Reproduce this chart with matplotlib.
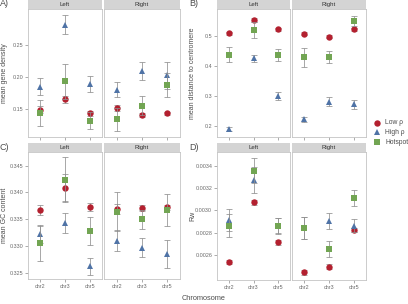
import matplotlib
matplotlib.use("Agg")
import matplotlib.pyplot as plt

chromosomes = ["chr2", "chr3", "chr5"]
sides = ["Left", "Right"]
groups = ["Low ρ", "High ρ", "Hotspot"]

# values: [side][chromosome]
gene_density_low = [[0.149, 0.165, 0.143], [0.152, 0.141, 0.143]]
gene_density_low_se = [[0.006, 0.005, 0.004], [0.005, 0.003, 0.003]]
gene_density_high = [[0.185, 0.282, 0.189], [0.180, 0.209, 0.203]]
gene_density_high_se = [[0.013, 0.015, 0.012], [0.012, 0.014, 0.021]]
gene_density_hot = [[0.144, 0.193, 0.132], [0.134, 0.155, 0.1875]]
gene_density_hot_se = [[0.020, 0.027, 0.013], [0.018, 0.015, 0.018]]

centromere_low = [[0.509, 0.553, 0.522], [0.508, 0.498, 0.522]]
centromere_low_se = [[0.005, 0.006, 0.005], [0.005, 0.005, 0.005]]
centromere_high = [[0.190, 0.426, 0.300], [0.222, 0.280, 0.273]]
centromere_high_se = [[0.008, 0.012, 0.012], [0.008, 0.015, 0.015]]
centromere_hot = [[0.437, 0.520, 0.437], [0.429, 0.429, 0.551]]
centromere_hot_se = [[0.025, 0.027, 0.021], [0.031, 0.020, 0.017]]

gc_low = [[0.3367, 0.3409, 0.3373], [0.3369, 0.3371, 0.3372]]
gc_low_se = [[0.0010, 0.0025, 0.0007], [0.0010, 0.0006, 0.0005]]
gc_high = [[0.3322, 0.3343, 0.3262], [0.3310, 0.3297, 0.3285]]
gc_high_se = [[0.0017, 0.0019, 0.0016], [0.0020, 0.0017, 0.0027]]
gc_hot = [[0.3305, 0.3424, 0.3328], [0.3364, 0.3350, 0.3367]]
gc_hot_se = [[0.0033, 0.0042, 0.0026], [0.0036, 0.0018, 0.0030]]

rw_low = [[0.002537, 0.003072, 0.002713], [0.002445, 0.002496, 0.002824]]
rw_low_se = [[0.00002, 0.00002, 0.00002], [0.00002, 0.00002, 0.00002]]
rw_high = [[0.002913, 0.003272, 0.002860], [0.002840, 0.002907, 0.002863]]
rw_high_se = [[0.00010, 0.00012, 0.00007], [0.00010, 0.00007, 0.00006]]
rw_hot = [[0.002863, 0.003355, 0.002863], [0.002842, 0.002651, 0.003113]]
rw_hot_se = [[0.00010, 0.00011, 0.00007], [0.00010, 0.00007, 0.00007]]

colors = ["#B3202F", "#4F73A6", "#72A553"]
markers = ["o", "^", "s"]

panels = [
    dict(label="A)", ylabel="mean gene density",
         data=[(gene_density_low, gene_density_low_se), (gene_density_high, gene_density_high_se),
               (gene_density_hot, gene_density_hot_se)],
         ylim=(0.10625, 0.30625), yticks=[0.15, 0.20, 0.25], fmt="{:.2f}",
         xl=(28, 102, 104, 180), yt=(0, 9, 137), xlabels=False, labx=5),
    dict(label="B)", ylabel="mean distance to centromere",
         data=[(centromere_low, centromere_low_se), (centromere_high, centromere_high_se),
               (centromere_hot, centromere_hot_se)],
         ylim=(0.1633, 0.59), yticks=[0.2, 0.3, 0.4, 0.5], fmt="{:.1f}",
         xl=(217, 290, 292, 366), yt=(0, 9, 137), xlabels=False, labx=193),
    dict(label="C)", ylabel="mean GC content",
         data=[(gc_low, gc_low_se), (gc_high, gc_high_se), (gc_hot, gc_hot_se)],
         ylim=(0.32382, 0.34756), yticks=[0.325, 0.330, 0.335, 0.340, 0.345], fmt="{:.3f}",
         xl=(28, 102, 104, 180), yt=(143, 152, 279), xlabels=True, labx=5),
    dict(label="D)", ylabel="Rw",
         data=[(rw_low, rw_low_se), (rw_high, rw_high_se), (rw_hot, rw_hot_se)],
         ylim=(0.002376, 0.003523), yticks=[0.0026, 0.0028, 0.0030, 0.0032, 0.0034], fmt="{:.4f}",
         xl=(217, 290, 292, 366), yt=(143, 152, 280), xlabels=True, labx=193),
]

W, H = 408, 304
fig = plt.figure(figsize=(W / 100, H / 100), dpi=100)
plt.rcParams["font.family"] = ["Liberation Sans", "DejaVu Sans"]

def frac(x0, y0, x1, y1):
    return [x0 / W, 1 - y1 / H, (x1 - x0) / W, (y1 - y0) / H]

txtc = "#4d4d4d"
edge = "#c4c4c4"
xpos = [1, 2, 3]

for p in panels:
    xa0, xa1, xb0, xb1 = p["xl"]
    st, top, bot = p["yt"]
    for si, (x0, x1) in enumerate([(xa0, xa1), (xb0, xb1)]):
        ax = fig.add_axes(frac(x0, top, x1, bot))
        for gi in range(3):
            vals, ses = p["data"][gi]
            ax.errorbar(xpos, vals[si], yerr=ses[si], fmt="none", ecolor="#8f8f8f",
                        elinewidth=0.55, capsize=2.2, capthick=0.55, zorder=2 + gi)
            ax.plot(xpos, vals[si], linestyle="none", marker=markers[gi], color=colors[gi],
                    markersize=4.6 if gi != 1 else 5.0, markeredgewidth=0, zorder=3 + gi)
        ax.set_xlim(0.5, 3.5)
        ax.set_ylim(*p["ylim"])
        ax.set_xticks(xpos)
        ax.set_yticks(p["yticks"])
        for s in ax.spines.values():
            s.set_color(edge)
            s.set_linewidth(0.6)
        ax.tick_params(length=2, width=0.5, color="#8a8a8a", labelsize=3.9, labelcolor="#6a6a6a", pad=1.5)
        if p["xlabels"]:
            ax.set_xticklabels(chromosomes)
        else:
            ax.set_xticklabels([])
        if si == 0:
            ax.set_yticklabels([p["fmt"].format(v) for v in p["yticks"]])
        else:
            ax.tick_params(axis="y", left=False, labelleft=False)
        sax = fig.add_axes(frac(x0, st, x1, top))
        sax.set_facecolor("#d4d4d4")
        sax.set_xticks([])
        sax.set_yticks([])
        for s in sax.spines.values():
            s.set_visible(False)
        sax.text(0.5, 0.5, sides[si], ha="center", va="center", fontsize=4.3, color="#333333",
                 transform=sax.transAxes)
    fig.text(p["labx"] / W, 1 - ((top + bot) / 2) / H, p["ylabel"], rotation=90,
             fontsize=5.0, color=txtc, ha="center", va="center")
    fig.text((xa0 - 28) / W, 1 - (st + 4) / H, p["label"], fontsize=6.5, color=txtc,
             ha="left", va="center")

fig.text(204 / W, 1 - 299 / H, "Chromosome", fontsize=5.3, color=txtc, ha="center", va="center")

# legend
for gi, (g, yy) in enumerate(zip(groups, [123, 132, 142])):
    fig.lines.append(plt.Line2D([377 / W], [1 - yy / H], marker=markers[gi], color=colors[gi],
                                markersize=4.6 if gi != 1 else 5.0, markeredgewidth=0,
                                linestyle="none", transform=fig.transFigure))
    fig.text(385 / W, 1 - yy / H, g, fontsize=4.9, color=txtc, ha="left", va="center")

fig.savefig("out.png", dpi=100, facecolor="white")
